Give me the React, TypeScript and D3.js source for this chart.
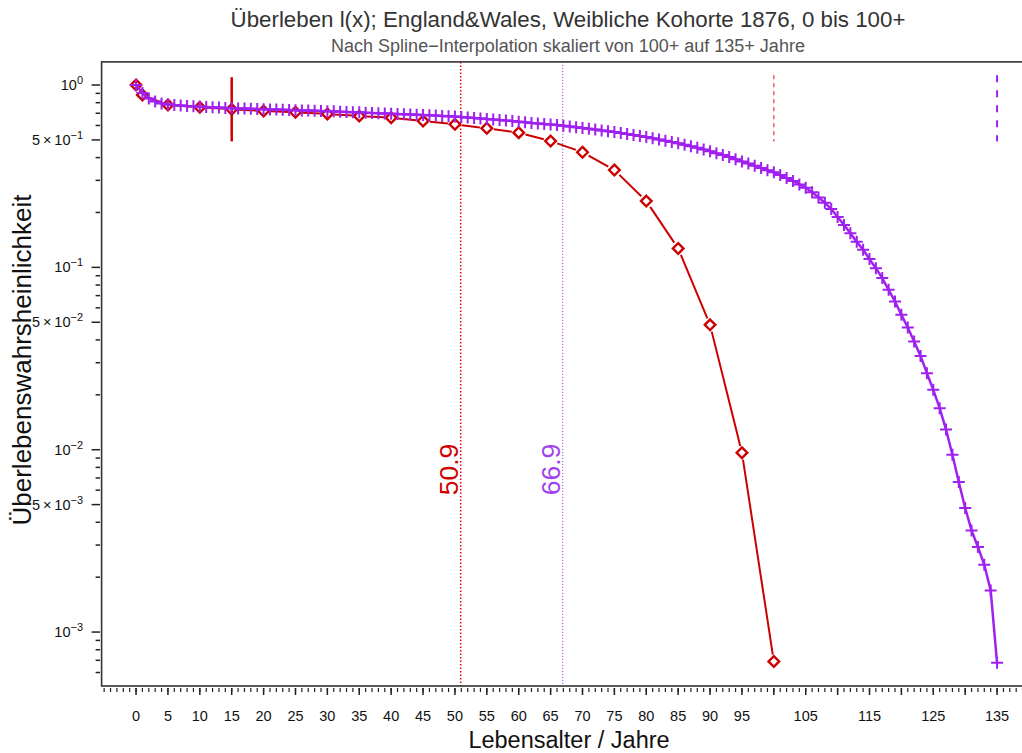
import React from 'react';
import * as d3 from 'd3';

const W = 1022;
const H = 753;

const titleText = 'Überleben l(x); England&Wales, Weibliche Kohorte 1876, 0 bis 100+';
const subtitleText = 'Nach Spline\u2212Interpolation skaliert von 100+ auf 135+ Jahre';
const xLabelText = 'Lebensalter / Jahre';
const yLabelText = 'Überlebenswahrsheinlichkeit';

// Observed (red) series: ages and survival l(x)
const redAges = [0, 1, 5, 10, 15, 20, 25, 30, 35, 40, 45, 50, 55, 60, 65, 70, 75, 80, 85, 90, 95, 100];
const redValues = [1.0, 0.882, 0.777, 0.755, 0.736, 0.72, 0.708, 0.694, 0.676, 0.662, 0.635, 0.609, 0.579, 0.548,
  0.493, 0.428, 0.342, 0.231, 0.127, 0.0484, 0.00963, 0.00069];

// Spline-scaled (purple) series: ages 0..135
const purpleAges = [
  0, 1, 2, 3, 4, 5, 6, 7, 8, 9, 10, 11, 12, 13, 14, 15, 16, 17, 18, 19, 20, 21, 22, 23, 24, 25, 26, 27, 28, 29,
  30, 31, 32, 33, 34, 35, 36, 37, 38, 39, 40, 41, 42, 43, 44, 45, 46, 47, 48, 49, 50, 51, 52, 53, 54, 55, 56, 57, 58, 59,
  60, 61, 62, 63, 64, 65, 66, 67, 68, 69, 70, 71, 72, 73, 74, 75, 76, 77, 78, 79, 80, 81, 82, 83, 84, 85, 86, 87, 88, 89,
  90, 91, 92, 93, 94, 95, 96, 97, 98, 99, 100, 101, 102, 103, 104, 105, 106, 107, 108, 109, 110, 111, 112, 113, 114, 115,
  116, 117, 118, 119, 120, 121, 122, 123, 124, 125, 126, 127, 128, 129, 130, 131, 132, 133, 134, 135,
];
const purpleValues = [
  1.0, 0.904, 0.843, 0.812, 0.792, 0.782, 0.777, 0.772, 0.767, 0.764, 0.761, 0.758, 0.755, 0.752, 0.749, 0.746,
  0.744, 0.743, 0.741, 0.739, 0.737, 0.735, 0.733, 0.731, 0.73, 0.728, 0.726, 0.724, 0.722, 0.72,
  0.718, 0.717, 0.714, 0.712, 0.71, 0.708, 0.705, 0.703, 0.7, 0.699, 0.696, 0.694, 0.692, 0.69, 0.688, 0.685,
  0.682, 0.68, 0.677, 0.675, 0.672, 0.668, 0.664, 0.659, 0.655, 0.651, 0.647, 0.643, 0.639, 0.634,
  0.629, 0.625, 0.62, 0.615, 0.611, 0.608, 0.603, 0.598, 0.593, 0.587, 0.581, 0.575, 0.57, 0.564, 0.558, 0.553,
  0.546, 0.539, 0.532, 0.525, 0.518, 0.51, 0.502, 0.494, 0.487, 0.479, 0.47, 0.461, 0.453, 0.443,
  0.433, 0.423, 0.413, 0.403, 0.392, 0.381, 0.371, 0.361, 0.351, 0.341, 0.332, 0.321, 0.309, 0.298, 0.285,
  0.273, 0.258, 0.242, 0.226, 0.209, 0.189, 0.171, 0.154, 0.138, 0.125, 0.111,
  0.099, 0.0873, 0.0753, 0.065, 0.0549, 0.0468, 0.0392, 0.0327, 0.0263, 0.0213, 0.0169, 0.0129, 0.00939,
  0.00665, 0.00479, 0.00361, 0.00293, 0.00234, 0.00169, 0.000678,
];

const e0Red = 50.9;
const e0Purple = 66.9;
const markAge = 15;
const maxAgeRed = 100;
const maxAgePurple = 135;
const refTop = 1.13;
const refBottom = 0.49;

const xTickLabels = [0, 5, 10, 15, 20, 25, 30, 35, 40, 45, 50, 55, 60, 65, 70, 75, 80, 85, 90, 95, 105, 115, 125, 135];
const yMajorMant = [1, 5];
const yExponents = [-3, -2, -1, 0];

const RED = '#CC0000';
const PURPLE = '#A020F0';
const FONT = '"Liberation Sans", Arial, Helvetica, sans-serif';

const left = 101.6;
const right = 1031.5;
const top = 61.9;
const bottom = 686;

export default function App() {
  const x = d3.scaleLinear().domain([-5.4, 140.4]).range([left, right]);
  const y = d3.scaleLog().domain([Math.pow(10, -3.2958), Math.pow(10, 0.1268)]).range([bottom, top]);

  const redPts = redAges.map((a, i) => [x(a), y(redValues[i])] as [number, number]);
  const purplePts = purpleAges.map((a, i) => [x(a), y(purpleValues[i])] as [number, number]);

  const gap = 7;
  const redSegs: string[] = [];
  for (let i = 0; i < redPts.length - 1; i++) {
    const [x1, y1] = redPts[i];
    const [x2, y2] = redPts[i + 1];
    const L = Math.hypot(x2 - x1, y2 - y1);
    if (L <= 2 * gap) continue;
    const ux = (x2 - x1) / L, uy = (y2 - y1) / L;
    redSegs.push(`M${x1 + ux * gap},${y1 + uy * gap}L${x2 - ux * gap},${y2 - uy * gap}`);
  }

  const line = d3.line<[number, number]>();

  const xMinor = d3.range(-5, 141, 1);
  const xMajor = d3.range(0, 141, 5);
  const yTicks: { v: number; major: boolean }[] = [];
  for (let e = -4; e <= 0; e++) {
    for (let m = 1; m <= 9; m++) {
      const v = m * Math.pow(10, e);
      if (v >= Math.pow(10, -3.2958) && v <= Math.pow(10, 0.1268)) {
        yTicks.push({ v, major: m === 1 || m === 5 });
      }
    }
  }

  const diamond = (cx: number, cy: number, r: number) => `M${cx},${cy - r}L${cx + r},${cy}L${cx},${cy + r}L${cx - r},${cy}Z`;

  return (
    <svg width={W} height={H} style={{ position: 'absolute', left: 0, top: 0, background: '#fff' }} fontFamily={FONT}>
      <rect x={0} y={0} width={W} height={H} fill="#fff" />
      {/* titles */}
      <text x={568} y={27} textAnchor="middle" fontSize={22.3} fill="#333">{titleText}</text>
      <text x={568} y={52} textAnchor="middle" fontSize={18} fill="#555">{subtitleText}</text>
      <text x={569} y={748} textAnchor="middle" fontSize={23.5} fill="#111">{xLabelText}</text>
      <text transform={`translate(31,${360}) rotate(-90)`} textAnchor="middle" fontSize={26} fill="#111">{yLabelText}</text>

      {/* vertical reference lines */}
      <line x1={x(e0Red)} x2={x(e0Red)} y1={top} y2={bottom} stroke="#EE0000" strokeWidth={1.5} strokeDasharray="1.5,2" />
      <line x1={x(e0Purple)} x2={x(e0Purple)} y1={top} y2={bottom} stroke={PURPLE} strokeWidth={1} strokeDasharray="1,2" />
      <line x1={x(maxAgeRed)} x2={x(maxAgeRed)} y1={y(refTop)} y2={y(refBottom)} stroke="#E06060" strokeWidth={1.5} strokeDasharray="4,4" />
      <line x1={x(maxAgePurple)} x2={x(maxAgePurple)} y1={y(refTop)} y2={y(refBottom)} stroke={PURPLE} strokeWidth={2} strokeDasharray="7,8" />

      {/* e0 labels */}
      <text transform={`translate(${x(e0Red) - 2.5},${469.5}) rotate(-90)`} textAnchor="middle" fontSize={26.5} fill="#D00000">{String(e0Red)}</text>
      <text transform={`translate(${x(e0Purple) - 2.5},${469.5}) rotate(-90)`} textAnchor="middle" fontSize={26.5} fill="#A040F0">{String(e0Purple)}</text>

      {/* red series */}
      {redSegs.map((d, i) => <path key={'rs' + i} d={d} stroke={RED} strokeWidth={2} fill="none" />)}
      {redPts.map(([cx, cy], i) => <path key={'rd' + i} d={diamond(cx, cy, 5.3)} stroke={RED} strokeWidth={2.4} fill="none" />)}

      {/* age 15 marker */}
      <line x1={x(markAge)} x2={x(markAge)} y1={y(redValues[4] * 1.5)} y2={y(redValues[4] / 1.5)} stroke={RED} strokeWidth={2.5} />

      {/* purple series */}
      <path d={line(purplePts) || ''} stroke={PURPLE} strokeWidth={2.5} fill="none" />
      {purplePts.map(([cx, cy], i) => (
        <path key={'pp' + i} d={`M${cx - 6},${cy}L${cx + 6},${cy}M${cx},${cy - 6}L${cx},${cy + 6}`} stroke={PURPLE} strokeWidth={2} />
      ))}

      {/* frame */}
      <rect x={left} y={top} width={right - left} height={bottom - top} fill="none" stroke="#333" strokeWidth={1.6} />

      {/* x axis ticks */}
      {xMinor.map((t) => (
        <line key={'xm' + t} x1={x(t)} x2={x(t)} y1={bottom + 2} y2={bottom + 6} stroke="#222" strokeWidth={1.2} />
      ))}
      {xMajor.map((t) => (
        <line key={'xM' + t} x1={x(t)} x2={x(t)} y1={bottom + 2} y2={bottom + 9} stroke="#222" strokeWidth={1.5} />
      ))}
      {xTickLabels.map((t) => (
        <text key={'xl' + t} x={x(t)} y={721} textAnchor="middle" fontSize={14.5} fill="#111">{String(t)}</text>
      ))}

      {/* y axis ticks */}
      {yTicks.map(({ v, major }, i) => (
        <line key={'yt' + i} x1={major ? left - 10 : left - 6} x2={left - 1.5} y1={y(v)} y2={y(v)} stroke="#222" strokeWidth={1.5} />
      ))}
      {yExponents.flatMap((e) => yMajorMant.map((m) => {
        const v = m * Math.pow(10, e);
        if (e === 0 && m === 5) return null;
        const yy = y(v) + 5;
        return (
          <text key={'yl' + e + m} x={83} y={yy} textAnchor="end" fontSize={14.5} fill="#111">
            {m === 5 ? '5\u2009\u00D7\u200910' : '10'}
            <tspan dy={-6} fontSize={11}>{e === 0 ? '0' : '\u2212' + String(-e)}</tspan>
          </text>
        );
      }))}
    </svg>
  );
}
